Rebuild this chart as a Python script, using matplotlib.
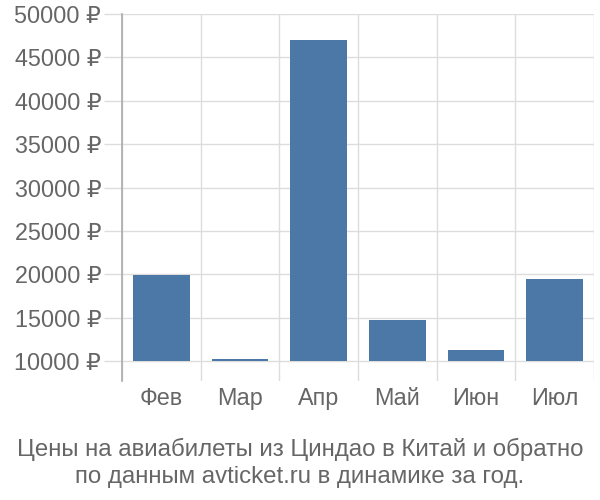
import numpy as np
import matplotlib
matplotlib.use("Agg")
import matplotlib.pyplot as plt

plt.rcParams['font.family'] = ['Liberation Sans', 'DejaVu Sans']

# Data
months = ['Фев', 'Мар', 'Апр', 'Май', 'Июн', 'Июл']
prices = [19900, 10250, 47000, 14800, 11300, 19500]
yticks = [10000, 15000, 20000, 25000, 30000, 35000, 40000, 45000, 50000]
title = 'Цены на авиабилеты из Циндао в Китай и обратно\nпо данным avticket.ru в динамике за год.'

base = 10000
text_color = '#666666'
grid_color = '#dddddd'

fig = plt.figure(figsize=(6, 5), dpi=100)
ax = fig.add_axes([122/600, 1 - 381/500, (594 - 122)/600, (381 - 14)/500])

x = np.arange(len(months))
heights = [p - base for p in prices]
ax.bar(x, heights, bottom=base, width=0.72, color='#4b78a6', zorder=3)

ax.set_xlim(-0.5, len(months) - 0.5)
ax.set_ylim(7725, 50000)

ax.set_yticks(yticks)
ax.set_yticklabels([f'{v} ₽' for v in yticks])
ax.set_xticks(x)
ax.set_xticklabels(months)
ax.set_xticks(np.arange(len(months) + 1) - 0.5, minor=True)

ax.grid(axis='y', color=grid_color, linewidth=1, zorder=0)
ax.grid(axis='x', which='minor', color=grid_color, linewidth=1, zorder=0)

ax.tick_params(axis='y', length=13, color=grid_color, width=1, pad=2,
               labelsize=16.8, labelcolor=text_color)
ax.tick_params(axis='x', which='major', length=0, pad=4,
               labelsize=16.8, labelcolor=text_color)
ax.tick_params(axis='x', which='minor', length=0)

for side in ['top', 'right', 'bottom']:
    ax.spines[side].set_visible(False)
ax.spines['left'].set_color('#aaaaaa')
ax.spines['left'].set_linewidth(1.2)

fig.text(0.5, 1 - 463/500, title, ha='center', va='center', fontsize=17.3,
         color=text_color, linespacing=1.28)

fig.savefig('out.png', dpi=100)
